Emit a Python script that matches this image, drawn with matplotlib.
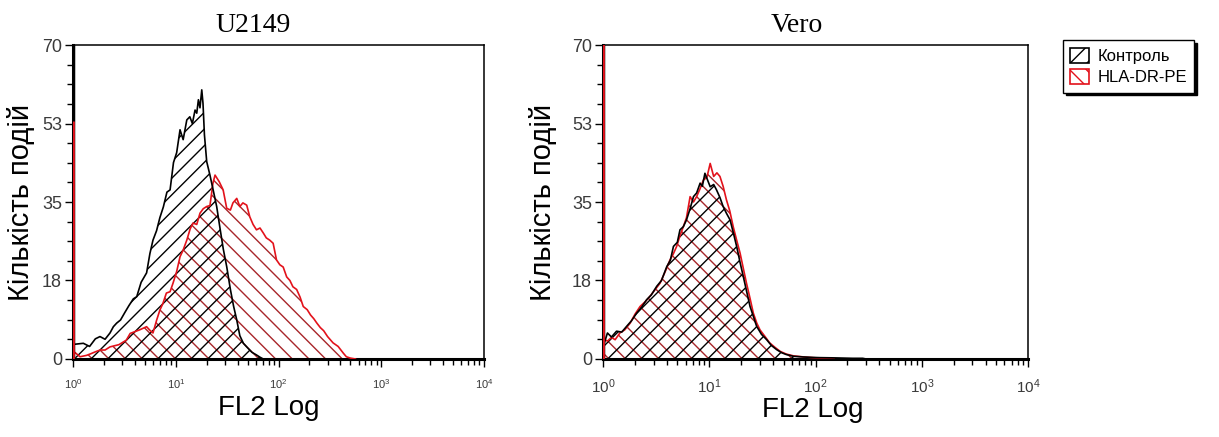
import matplotlib
matplotlib.use("Agg")
import matplotlib.pyplot as plt
from matplotlib.patches import Patch
from matplotlib.ticker import FixedLocator, MultipleLocator

plt.rcParams["font.family"] = ["Liberation Sans", "DejaVu Sans"]
plt.rcParams["mathtext.fontset"] = "custom"
plt.rcParams["mathtext.rm"] = "Liberation Sans"
plt.rcParams["mathtext.default"] = "regular"
plt.rcParams["hatch.linewidth"] = 1.0

# U2149, control (black)
u_ctrl_x = [1.05, 1.26, 1.45, 1.65, 1.83, 2.05, 2.29, 2.47, 2.66, 2.9, 3.2, 3.5, 3.86,
            4.17, 4.6, 5.2, 5.6, 6.0, 6.5, 7.0, 7.57, 8.2, 8.8, 9.5, 10.2, 11.0, 11.8,
            12.8, 13.7, 14.5, 15.4, 16.0, 16.6, 17.2, 17.9, 18.4, 19.0, 20.0, 21.5,
            23.2, 25.0, 27.0, 29.0, 31.3, 34.0, 36.5, 39.2, 42.0, 45.5, 49.0, 55.0,
            61.0, 66.0, 71.0]
u_ctrl_y = [3.3, 3.5, 2.8, 4.5, 5.0, 4.4, 5.8, 7.2, 8.0, 8.7, 10.4, 11.9, 13.4,
            13.9, 17.1, 19.2, 23.5, 26.5, 28.6, 31.5, 33.9, 37.2, 37.7, 43.8, 46.0,
            51.1, 48.9, 53.3, 54.0, 52.5, 55.5, 54.8, 57.8, 56.0, 60.0, 57.0, 50.0,
            44.0, 41.0, 37.5, 34.0, 29.0, 24.5, 20.6, 15.5, 11.8, 8.7, 5.2, 3.5, 2.7,
            1.5, 0.9, 0.4, 0.0]

# U2149, HLA-DR-PE (red)
u_hla_x = [1.05, 1.17, 1.35, 1.5, 1.65, 1.83, 2.05, 2.29, 2.8, 3.3, 3.6, 4.45, 5.2,
           5.6, 6.0, 6.5, 7.0, 7.5, 8.1, 8.8, 9.4, 10.2, 11.0, 11.8, 12.8, 13.8, 14.7,
           16.0, 17.2, 18.5, 20.0, 21.5, 23.0, 24.1, 26.5, 28.9, 31.3, 34.0, 36.0,
           39.2, 42.0, 45.0, 49.0, 52.5, 56.5, 61.0, 66.0, 71.0, 76.0, 82.0, 88.6,
           95.5, 103, 111, 120, 129, 138, 150, 162, 174, 190, 205, 220, 236, 255,
           275, 300, 339, 380, 427, 457, 500, 560]
u_hla_y = [1.4, 0.5, 0.8, 1.2, 1.6, 2.0, 2.0, 2.7, 3.2, 4.2, 5.7, 6.5, 7.2,
           6.4, 5.8, 8.6, 10.9, 12.4, 14.7, 15.0, 16.9, 19.5, 22.8, 24.3, 26.5, 29.0,
           30.3, 30.0, 32.5, 33.5, 34.0, 34.2, 39.2, 41.0, 39.5, 37.7, 33.6, 33.2,
           34.8, 35.8, 34.0, 34.8, 34.3, 31.7, 30.0, 28.8, 29.2, 28.1, 27.0, 26.5,
           25.8, 22.1, 21.0, 20.5, 18.3, 17.5, 16.1, 15.5, 13.8, 11.7, 11.0, 9.8,
           9.0, 8.0, 7.0, 6.3, 5.0, 3.6, 2.8, 1.3, 0.5, 0.2, 0.0]

# Vero, control (black)
v_ctrl_x = [1.03, 1.1, 1.2, 1.34, 1.5, 1.67, 1.85, 2.07, 2.3, 2.57, 2.85, 3.2, 3.55,
            3.98, 4.3, 4.6, 5.0, 5.3, 5.7, 6.1, 6.6, 7.1, 7.6, 8.2, 8.6, 9.1, 9.6,
            10.2, 11.0, 11.7, 12.6, 13.5, 14.5, 15.7, 16.9, 18.1, 19.5, 20.9, 22.5,
            24.2, 26.0, 27.9, 31.0, 34.7, 38.5, 43.0, 48.0, 53.0, 62.0, 77.0, 95.0,
            110, 150, 224, 278, 300]
v_ctrl_y = [3.6, 5.8, 4.9, 6.2, 6.0, 7.3, 8.5, 10.2, 11.5, 13.2, 14.3, 16.2, 17.5,
            20.6, 22.0, 25.1, 26.0, 28.8, 29.5, 31.0, 33.5, 36.2, 37.0, 39.2, 38.5,
            41.4, 40.0, 38.4, 38.9, 37.7, 36.0, 34.0, 32.5, 31.0, 28.0, 25.1, 21.5,
            18.4, 15.0, 11.7, 9.5, 7.3, 5.5, 4.3, 3.0, 2.1, 1.4, 1.0, 0.6, 0.45, 0.35,
            0.3, 0.25, 0.15, 0.15, 0.0]

# Vero, HLA-DR-PE (red)
v_hla_x = [1.03, 1.1, 1.2, 1.3, 1.44, 1.6, 1.8, 2.0, 2.23, 2.5, 2.77, 3.1, 3.44,
           3.85, 4.27, 4.6, 4.93, 5.3, 5.7, 6.1, 6.6, 7.1, 7.6, 8.2, 8.8, 9.5, 10.2,
           11.0, 11.8, 12.6, 13.5, 14.5, 15.6, 16.8, 18.1, 19.5, 21.0, 22.4, 24.2,
           26.0, 28.0, 30.0, 33.5, 37.0, 41.5, 46.5, 53.0, 62.0, 78.0, 95.0, 120, 150]
v_hla_y = [4.3, 4.0, 4.8, 4.3, 5.8, 6.5, 8.0, 10.0, 11.7, 12.8, 14.0, 15.5, 16.9,
           19.5, 22.1, 23.5, 25.1, 27.5, 29.5, 31.5, 36.2, 35.0, 36.2, 38.0, 39.9,
           40.5, 43.6, 40.7, 41.5, 40.7, 38.5, 35.5, 33.0, 29.5, 26.5, 23.6, 20.0,
           16.9, 13.5, 10.2, 8.0, 6.5, 5.0, 3.6, 2.6, 1.7, 1.1, 0.7, 0.45, 0.3,
           0.15, 0.0]

# counts piled up in the first channel (x = 10^0)
first_bin = {"U2149": (75.0, 53.0), "Vero": (75.0, 75.0)}

panels = [
    ("U2149", u_ctrl_x, u_ctrl_y, u_hla_x, u_hla_y),
    ("Vero", v_ctrl_x, v_ctrl_y, v_hla_x, v_hla_y),
]

y_ticks = [0, 17.5, 35, 52.5, 70]
y_labels = ["0", "18", "35", "53", "70"]

black = "#000000"
red_line = "#e3121b"
red_hatch = "#a8262a"

fig = plt.figure(figsize=(12.19, 4.37), dpi=100)
positions = [[0.0599, 0.1785, 0.3372, 0.7185], [0.4947, 0.1785, 0.3486, 0.7185]]
title_x = [0.438, 0.456]
ylabel_x = [-0.092, -0.108]
xlabel_pos = [(0.477, -0.115), (0.494, -0.122)]
xtick_size = [8, 11]

for i, (name, cx, cy, hx, hy) in enumerate(panels):
    ax = fig.add_axes(positions[i])
    ax.set_xscale("log")

    ax.fill_between(hx, hy, 0, facecolor="none", edgecolor=red_hatch,
                    hatch="\\\\", linewidth=0, zorder=2)
    ax.fill_between(cx, cy, 0, facecolor="none", edgecolor=black,
                    hatch="//", linewidth=0, zorder=2)
    ax.plot(hx, hy, color=red_line, lw=1.2, zorder=3)
    ax.plot(cx, cy, color=black, lw=1.2, zorder=4)

    c0, h0 = first_bin[name]
    ax.vlines(1.0, 0, c0, color=black, lw=2.5, zorder=5)
    ax.vlines(1.0, 0, h0, color=red_line, lw=2.0, zorder=6)

    ax.set_xlim(1, 1e4)
    ax.set_ylim(0, 70)

    ax.yaxis.set_major_locator(FixedLocator(y_ticks))
    ax.set_yticklabels(y_labels)
    ax.yaxis.set_minor_locator(MultipleLocator(4.375))
    ax.tick_params(axis="y", which="major", length=6, width=1,
                   labelsize=13, labelcolor="#3a3a3a", pad=2)
    ax.tick_params(axis="y", which="minor", length=4, width=1)
    ax.tick_params(axis="x", which="major", length=6, width=1,
                   labelsize=xtick_size[i], labelcolor="#3a3a3a", pad=7)
    ax.tick_params(axis="x", which="minor", length=4, width=1)

    for side in ["left", "bottom"]:
        ax.spines[side].set_linewidth(2.2)
    for side in ["top", "right"]:
        ax.spines[side].set_linewidth(1.1)

    ax.text(title_x[i], 1.041, name, transform=ax.transAxes, ha="center",
            va="baseline", fontsize=20, family=["Liberation Serif", "DejaVu Serif"])
    ax.set_ylabel("Кількість подій", fontsize=21)
    ax.yaxis.set_label_coords(ylabel_x[i], 0.5)
    ax.set_xlabel("FL2 Log", fontsize=20)
    ax.xaxis.set_label_coords(*xlabel_pos[i])

handles = [
    Patch(facecolor="white", edgecolor=black, hatch="//", lw=1.2),
    Patch(facecolor="white", edgecolor=red_line, hatch="\\\\", lw=1.2),
]
fig.legend(handles, ["Контроль", "HLA-DR-PE"], loc="upper left",
           bbox_to_anchor=(0.872, 0.908), borderaxespad=0, fontsize=12,
           frameon=True, fancybox=False, edgecolor=black, framealpha=1,
           shadow={"color": "black", "alpha": 1}, handlelength=1.1,
           handleheight=1.0, handletextpad=0.5, borderpad=0.45, labelspacing=0.3)

fig.savefig("out.png", dpi=100)
